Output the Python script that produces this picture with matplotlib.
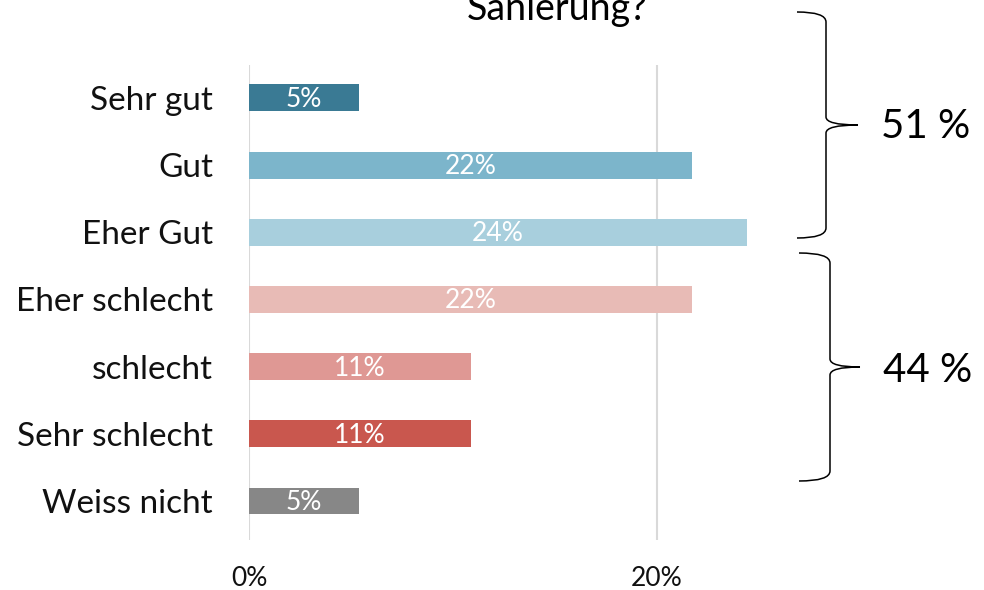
import matplotlib
matplotlib.use("Agg")
import matplotlib.pyplot as plt
from matplotlib.path import Path
from matplotlib.patches import PathPatch

categories = ["Sehr gut", "Gut", "Eher Gut", "Eher schlecht", "schlecht", "Sehr schlecht", "Weiss nicht"]
values = [5.4, 21.7, 24.4, 21.7, 10.9, 10.9, 5.4]
bar_labels = ["5%", "22%", "24%", "22%", "11%", "11%", "5%"]
colors = ["#3A7A94", "#7CB5CB", "#A8CFDD", "#E8BBB6", "#DF9894", "#C9574E", "#878787"]
group_labels = ["51 %", "44 %"]
title = "Sanierung?"

FONT = ["Lato", "DejaVu Sans"]
W, H = 984, 590

fig = plt.figure(figsize=(W / 100, H / 100), dpi=100)
ax = fig.add_axes([249 / W, 1 - 540 / H, 571 / W, 475 / H])

ypos = list(range(len(categories)))
ax.barh(ypos, values, height=0.4, color=colors, zorder=3)
for y, v, lab in zip(ypos, values, bar_labels):
    ax.text(v / 2, y + 0.02, lab, ha="center", va="center", color="white",
            fontsize=19, family=FONT, zorder=4)

ax.set_xlim(0, 28)
ax.set_ylim(6.58, -0.49)
ax.set_yticks(ypos)
ax.set_yticklabels(categories, family=FONT, fontsize=24, color="#111111")
ax.set_xticks([0, 20])
ax.set_xticklabels(["0%", "20%"], family=FONT, fontsize=19, color="#111111")
ax.tick_params(length=0, pad=26, axis="y")
ax.tick_params(length=0, pad=19, axis="x")
ax.xaxis.grid(True, color="#D9D9D9", linewidth=1.5, zorder=0)
for s in ax.spines.values():
    s.set_visible(False)


def brace(x0, y_top, y_bot, depth, tip):
    # curly brace in pixel coords, opening to the left
    ym = (y_top + y_bot) / 2
    xm = x0 + depth
    verts = [(x0, y_top), (xm, y_top), (xm, y_top + 10),
             (xm, ym - 8),
             (xm, ym), (xm + tip, ym),
             (xm, ym), (xm, ym + 8),
             (xm, y_bot - 10),
             (xm, y_bot), (x0, y_bot)]
    codes = [Path.MOVETO, Path.CURVE3, Path.CURVE3, Path.LINETO,
             Path.CURVE3, Path.CURVE3, Path.CURVE3, Path.CURVE3,
             Path.LINETO, Path.CURVE3, Path.CURVE3]
    verts = [(x / W, 1 - y / H) for x, y in verts]
    p = PathPatch(Path(verts, codes), transform=fig.transFigure,
                  fill=False, edgecolor="black", linewidth=1.1)
    fig.patches.append(p)


brace(797, 12, 238, 29, 32)
brace(799, 253, 481, 31, 30)
fig.text(926 / W, 1 - 127 / H, group_labels[0], ha="center", va="center",
         fontsize=29, family=FONT)
fig.text(928 / W, 1 - 370 / H, group_labels[1], ha="center", va="center",
         fontsize=29, family=FONT)
fig.text(557 / W, 1 - 20 / H, title, ha="center", va="baseline",
         fontsize=27, family=FONT)

fig.savefig("out.png", dpi=100)
